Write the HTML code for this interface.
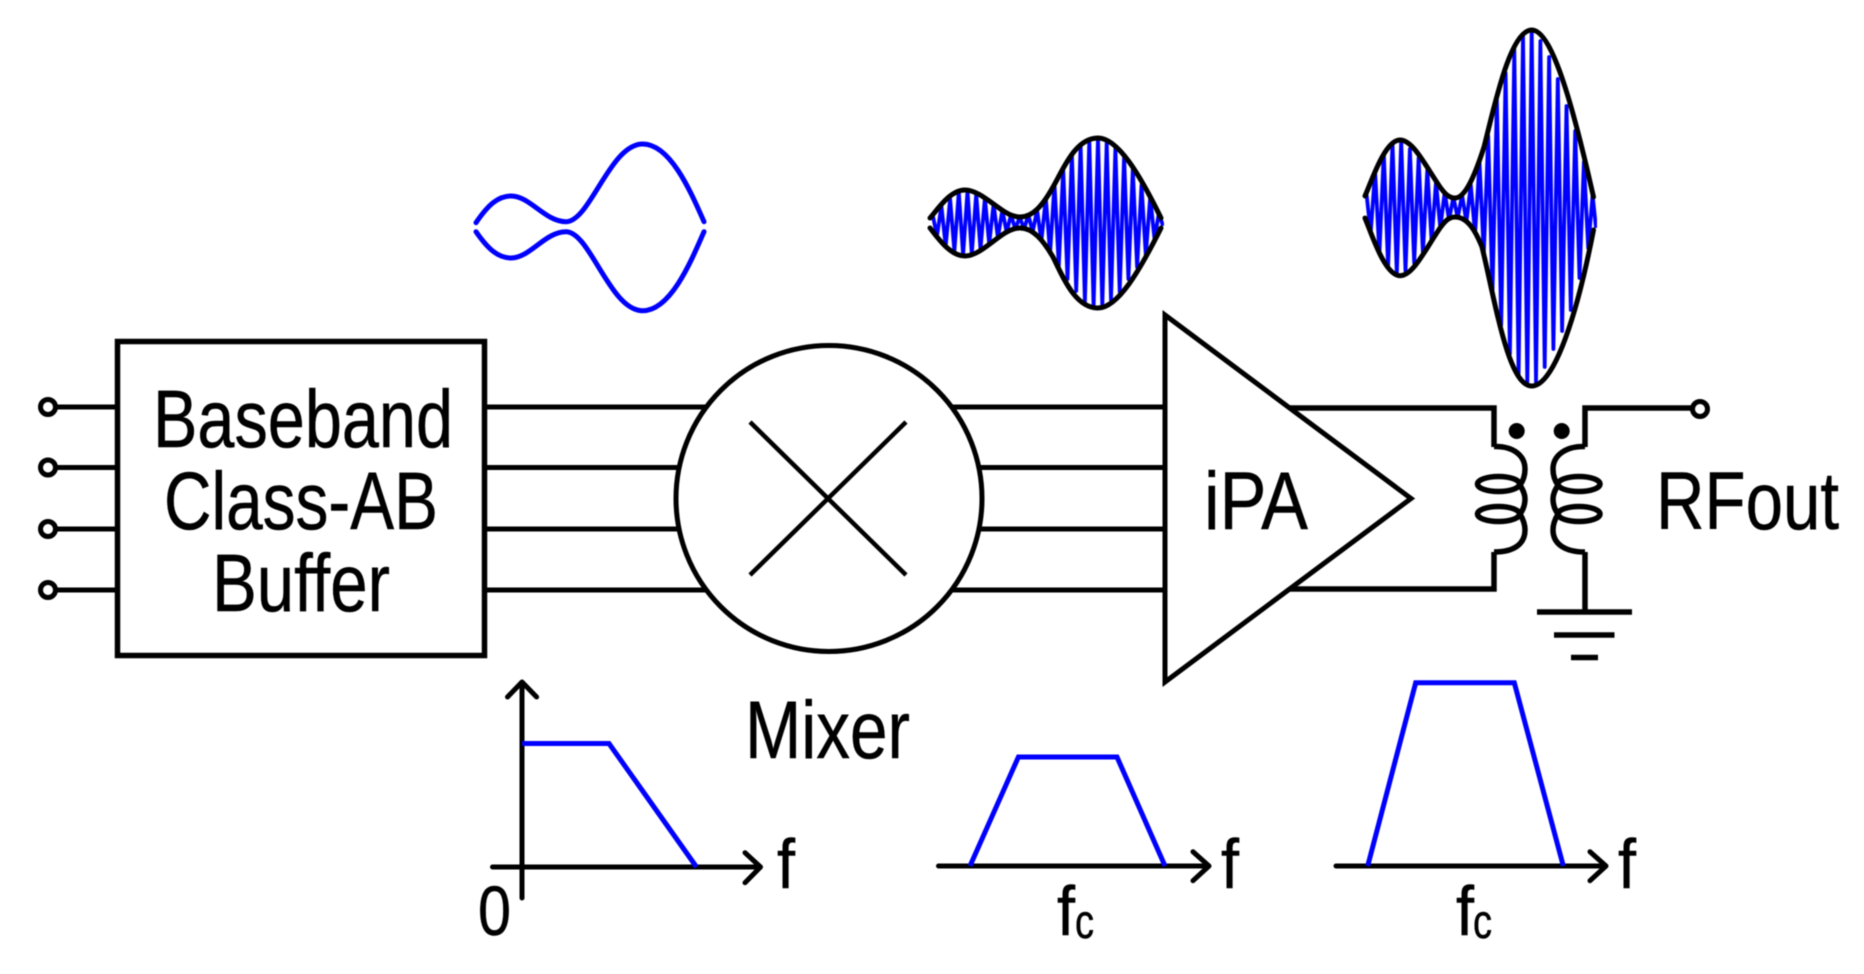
<!DOCTYPE html>
<html><head><meta charset="utf-8"><style>
html,body{margin:0;padding:0;background:#fff;width:1864px;height:974px;overflow:hidden}
svg{display:block;filter:blur(.6px)}
text{font-family:"Liberation Sans",Arial,sans-serif;fill:#000;stroke:#000;stroke-width:.5px}
</style></head><body>
<svg xmlns="http://www.w3.org/2000/svg" width="1864" height="974" viewBox="0 0 1864 974">
<defs>
<clipPath id="c2"><path d="M930 218C938 209 950 190 965 190C978 190 992 204 1005 212C1010 215 1015 217 1020 217C1033 217 1043 205 1053 187C1063 170 1075 138 1098 138C1118 138 1140 175 1161 218H1164V228H1161C1140 270 1118 308 1098 308C1075 308 1063 277 1053 257C1043 240 1033 228 1020 228C1015 228 1010 230 1005 233C992 241 978 256 965 256C950 256 938 238 930 228Z"/></clipPath>
<clipPath id="c3"><path d="M1365 196C1372 180 1385 140 1400 140C1413 140 1425 165 1440 187C1445 194 1449 198 1455 198C1466 198 1476 172 1484 147C1494 108 1510 30 1531.7 30C1553 30 1575 115 1593.5 197H1597V230H1593.5C1578 310 1555 386 1531.7 386C1508 386 1495 300 1482 247C1476 232 1468 217 1455 217C1449 217 1445 221 1440 228C1425 250 1413 275.7 1400 275.7C1385 275.7 1372 235 1365 218Z"/></clipPath>
</defs>
<rect width="1864" height="974" fill="#fff"/>

<!-- waveforms -->
<g fill="none" stroke="#00f" stroke-width="5" stroke-linecap="round">
<path d="M476 222.7C488 205 498 196 511 196C530 196 545 221.7 566 221.7C590 221.7 610 144 642.6 144C670 144 690 190 704 221.7"/>
<path d="M476 231.7C488 249 498 258 511 258C530 258 545 231.7 566 231.7C590 231.7 610 310.7 642.6 310.7C670 310.7 690 264 704 231.7"/>
</g>
<g clip-path="url(#c2)"><polyline fill="none" stroke="#00f" stroke-width="3.8" stroke-linejoin="round" points="932.7,215 937,236 941.4,206 945.7,246 950.1,199 954.4,251 958.8,192 963.1,255 967.5,191 971.8,254 976.2,194 980.5,249 984.9,198 989.2,244 993.6,204 997.9,238 1002.3,210 1006.6,232 1011,215 1015.3,229 1019.7,217 1024,229 1028.4,215 1032.7,232 1037.1,210 1041.4,241 1045.8,198 1050.1,253 1054.5,184 1058.8,266 1063.2,169 1067.5,279 1071.9,154 1076.2,291 1080.6,145 1084.9,302 1089.3,140 1093.6,307 1098,138 1102.3,306 1106.7,142 1111,300 1115.4,148 1119.7,292 1124.1,156 1128.4,279 1132.8,169 1137.1,267 1141.5,185 1145.8,255 1150.2,197 1154.5,239 1158.9,213 1163,226"/></g>
<g fill="none" stroke="#000" stroke-width="5" stroke-linecap="round">
<path d="M930 218C938 209 950 190 965 190C978 190 992 204 1005 212C1010 215 1015 217 1020 217C1033 217 1043 205 1053 187C1063 170 1075 138 1098 138C1118 138 1140 175 1161 218"/>
<path d="M930 228C938 238 950 256 965 256C978 256 992 241 1005 233C1010 230 1015 228 1020 228C1033 228 1043 240 1053 257C1063 277 1075 308 1098 308C1118 308 1140 270 1161 228"/>
</g>
<g clip-path="url(#c3)"><polyline fill="none" stroke="#00f" stroke-width="3.8" stroke-linejoin="round" points="1366.4,193 1370.7,233 1375.1,171 1379.4,254 1383.8,153 1388.1,267 1392.5,143 1396.8,274 1401.2,141 1405.5,271 1409.9,149 1414.2,263 1418.6,158 1422.9,253 1427.3,170 1431.6,241 1436,182 1440.3,228 1444.7,192 1449,220 1453.4,197 1457.7,218 1462.1,195 1466.4,222 1470.8,185 1475.1,234 1479.5,162 1483.8,254 1488.2,136 1492.5,292 1496.9,100 1501.2,325 1505.6,73 1509.9,354 1514.3,49 1518.6,376 1523,35 1527.3,384 1531.7,30 1536,382 1540.4,41 1544.7,367 1549.1,57 1553.4,349 1557.8,79 1562.1,331 1566.5,106 1570.8,310 1575.2,131 1579.5,278 1583.9,162 1588.2,248 1592.6,195 1596,228"/></g>
<g fill="none" stroke="#000" stroke-width="5" stroke-linecap="round">
<path d="M1365 196C1372 180 1385 140 1400 140C1413 140 1425 165 1440 187C1445 194 1449 198 1455 198C1466 198 1476 172 1484 147C1494 108 1510 30 1531.7 30C1553 30 1575 115 1593.5 197"/>
<path d="M1365 218C1372 235 1385 275.7 1400 275.7C1413 275.7 1425 250 1440 228C1445 221 1449 217 1455 217C1468 217 1476 232 1482 247C1495 300 1508 386 1531.7 386C1555 386 1578 310 1593.5 230"/>
</g>

<!-- main blocks and wires -->
<g fill="none" stroke="#000" stroke-width="5">
<rect x="117.5" y="341.5" width="367" height="314" stroke-width="5.5"/>
<path d="M56 407H117M56 467.5H117M56 529H117M56 590H117"/>
<circle cx="48" cy="407" r="7.5"/><circle cx="48" cy="467.5" r="7.5"/><circle cx="48" cy="529" r="7.5"/><circle cx="48" cy="590" r="7.5"/>
<path d="M485 407H708M485 467.5H680M485 529H680M485 590H708"/>
<path d="M950 407H1165M978 467.5H1165M978 529H1165M950 590H1165"/>
<circle cx="829" cy="498.5" r="153" fill="#fff"/>
<path d="M750 422L906 575M906 422L750 575" stroke-width="4.5"/>
<path d="M1165 315V682L1411 498.5Z" stroke-linejoin="miter" fill="#fff"/>

<path d="M1290 408H1494V447M1290 589H1494V552" stroke-width="5.5"/>
<path d="M1494 446.5C1514 446 1525 456 1525 469C1525 476 1523 481 1520 485C1523 490 1525 494 1525 499C1525 505 1523 510 1520 514C1523 519 1525 524 1525 530C1525 544 1514 552 1494 552" stroke-width="5.5"/>
<ellipse cx="1498.5" cy="484" rx="21" ry="7.5" stroke-width="5.5"/><ellipse cx="1498.5" cy="514" rx="21" ry="7.5" stroke-width="5.5"/>
<path d="M1585 446.5C1565 446 1553 456 1553 469C1553 476 1555 481 1558 485C1555 490 1553 494 1553 499C1553 505 1555 510 1558 514C1555 519 1553 524 1553 530C1553 544 1565 552 1585 552" stroke-width="5.5"/>
<ellipse cx="1579" cy="484" rx="21" ry="7.5" stroke-width="5.5"/><ellipse cx="1579" cy="514" rx="21" ry="7.5" stroke-width="5.5"/>
<path d="M1585 447V408H1692M1585 552V612" stroke-width="5.5"/>
<circle cx="1700" cy="409" r="7.5"/>
<path d="M1537 612H1632M1554 635H1614.5M1571 657.5H1598" stroke-width="5.5"/>
</g>
<circle cx="1516.7" cy="431" r="8"/><circle cx="1561.7" cy="431" r="8"/>

<!-- spectra -->
<g fill="none" stroke="#000" stroke-width="5" stroke-linecap="round" stroke-linejoin="round">
<path d="M522 682V898M507.5 697L522 682L536.6 697"/>
<path d="M492.5 867H760.5M745 852.7L760.5 867L745 882.7"/>
<path d="M938.5 866H1209M1193 851.7L1209 866L1193 880.7"/>
<path d="M1336 866H1606M1590 851.7L1606 866L1590 880.7"/>
</g>
<g fill="none" stroke="#00f" stroke-width="5" stroke-linejoin="miter">
<path d="M522 743.5H609L696.5 867"/>
<path d="M970 866L1018.4 757H1117L1165 866"/>
<path d="M1367.7 866L1415.7 682.7H1514.3L1563.3 866"/>
</g>

<!-- labels -->
<text x="153" y="447" font-size="82" textLength="300" lengthAdjust="spacingAndGlyphs">Baseband</text>
<text x="164" y="529" font-size="82" textLength="274" lengthAdjust="spacingAndGlyphs">Class-AB</text>
<text x="212" y="611" font-size="82" textLength="178" lengthAdjust="spacingAndGlyphs">Buffer</text>
<text x="1204" y="529" font-size="82" textLength="104" lengthAdjust="spacingAndGlyphs">iPA</text>
<text x="1656" y="529" font-size="82" textLength="183" lengthAdjust="spacingAndGlyphs">RFout</text>
<text x="745" y="758" font-size="82" textLength="165" lengthAdjust="spacingAndGlyphs">Mixer</text>
<text x="777" y="888" font-size="70" textLength="18" lengthAdjust="spacingAndGlyphs">f</text>
<text x="1221" y="888" font-size="70" textLength="18" lengthAdjust="spacingAndGlyphs">f</text>
<text x="1618" y="888" font-size="70" textLength="18" lengthAdjust="spacingAndGlyphs">f</text>
<text x="478" y="935" font-size="70" textLength="33" lengthAdjust="spacingAndGlyphs">0</text>
<text x="1057" y="935" font-size="70" textLength="18" lengthAdjust="spacingAndGlyphs">f</text>
<text x="1075" y="938" font-size="48" textLength="19" lengthAdjust="spacingAndGlyphs">c</text>
<text x="1456" y="935" font-size="70" textLength="18" lengthAdjust="spacingAndGlyphs">f</text>
<text x="1473" y="938" font-size="48" textLength="19" lengthAdjust="spacingAndGlyphs">c</text>
</svg>
</body></html>
